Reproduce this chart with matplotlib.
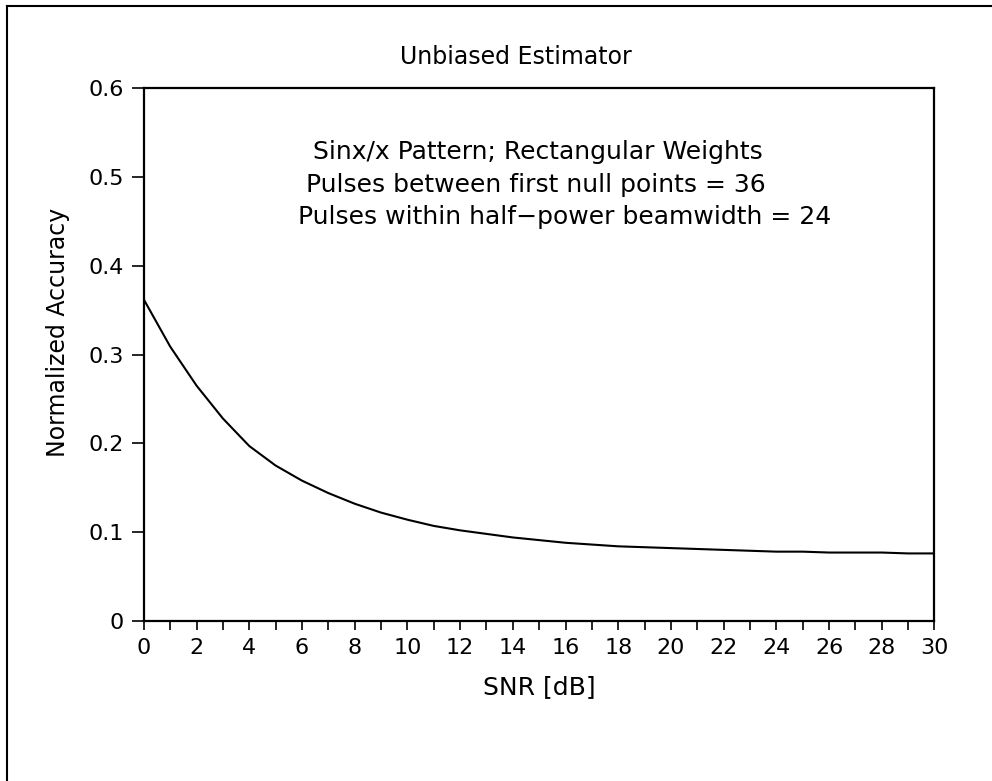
import matplotlib
matplotlib.use('Agg')
import matplotlib.pyplot as plt
from matplotlib.lines import Line2D

# SNR in dB and the normalized accuracy
snr_db = [0, 1, 2, 3, 4, 5, 6, 7, 8, 9, 10, 11, 12, 13, 14, 15,
          16, 17, 18, 19, 20, 21, 22, 23, 24, 25, 26, 27, 28, 29, 30]
accuracy = [0.362, 0.309, 0.265, 0.228, 0.197, 0.175, 0.158, 0.144, 0.132, 0.122,
            0.114, 0.107, 0.102, 0.098, 0.094, 0.091, 0.088, 0.086, 0.084, 0.083,
            0.082, 0.081, 0.080, 0.079, 0.078, 0.078, 0.077, 0.077, 0.077, 0.076, 0.076]

x_ticks = [0, 2, 4, 6, 8, 10, 12, 14, 16, 18, 20, 22, 24, 26, 28, 30]
y_ticks = [0, 0.1, 0.2, 0.3, 0.4, 0.5, 0.6]
y_tick_labels = ['0', '0.1', '0.2', '0.3', '0.4', '0.5', '0.6']

notes = ['Sinx/x Pattern; Rectangular Weights',
         'Pulses between first null points = 36',
         'Pulses within half\u2212power beamwidth = 24']

plt.rcParams['font.family'] = ['DejaVu Sans']

fig = plt.figure(figsize=(9.92, 7.81), dpi=100)
ax = fig.add_axes([0.145, 0.205, 0.797, 0.682])

ax.plot(snr_db, accuracy, color='black', linewidth=1.5, solid_joinstyle='round')

ax.set_xlim(0, 30)
ax.set_ylim(0, 0.6)
ax.set_xticks(x_ticks)
ax.set_xticks(range(0, 31), minor=True)
ax.set_yticks(y_ticks)
ax.set_yticklabels(y_tick_labels)
ax.tick_params(axis='x', which='both', direction='out', length=6.5, width=1.2,
               labelsize=16, pad=6)
ax.tick_params(axis='y', direction='out', length=8.5, width=1.2,
               labelsize=16, pad=6)
for s in ax.spines.values():
    s.set_linewidth(1.6)

ax.set_xlabel('SNR [dB]', fontsize=18, labelpad=12)
fig.text(0.058, 1 - 332 / 781, 'Normalized Accuracy', fontsize=17,
         rotation=90, ha='center', va='center')
fig.text(0.52, 1 - 57 / 781, 'Unbiased Estimator', fontsize=17,
         ha='center', va='center')

# annotation block inside the axes
note_x = [0.214, 0.205, 0.195]
note_y = [0.880, 0.818, 0.758]
for tx, ty, t in zip(note_x, note_y, notes):
    ax.text(tx, ty, t, transform=ax.transAxes, fontsize=18,
            ha='left', va='center')

# page border from the scan (left and top edges)
fig.add_artist(Line2D([7 / 992, 7 / 992], [0, 1 - 6 / 781],
                      transform=fig.transFigure, color='black', linewidth=1.5))
fig.add_artist(Line2D([7 / 992, 1], [1 - 6 / 781, 1 - 6 / 781],
                      transform=fig.transFigure, color='black', linewidth=1.5))

plt.savefig('out.png', dpi=100)
